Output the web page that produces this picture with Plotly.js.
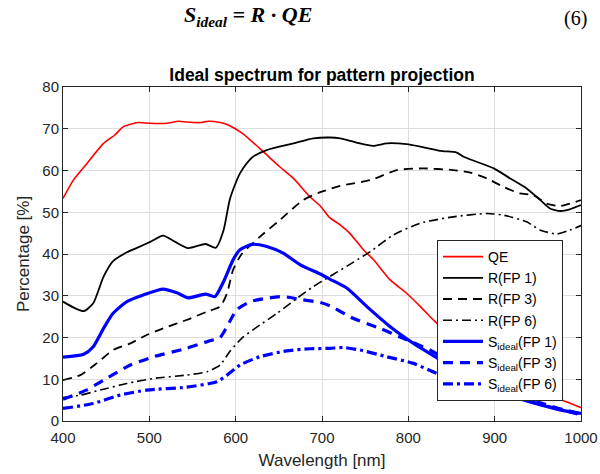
<!DOCTYPE html>
<html>
<head>
<meta charset="utf-8">
<script src="https://cdn.plot.ly/plotly-3.0.1.min.js"></script>
<style>html,body{margin:0;padding:0;background:#fff;}#chart{width:600px;height:474px;}</style>
</head>
<body>
<div id="chart"></div>
<script>
// Data (wavelength in nm, values in %)
var qeWl = [400,412,425,447,460,470,487,500,520,534,543,560,568,582,590,597,607,617,632,651,667,686,698,709,721,732,748,759,779,798,814,831,850,880,900,930,960,983,1000];
var qeVal = [53.3,57.7,61,66.5,68.5,70.5,71.5,71.3,71.3,71.8,71.6,71.5,71.8,71.5,71,70.3,69,67.3,64.5,60.9,58.1,53.7,51.5,48.7,47,45,41,38.8,33.8,30.6,27.4,23.8,20.5,15.5,12.5,9,6.3,4.6,3.2];

var r1Wl = [400,412,424,435,447,458,474,485,501,516,530,545,565,577,586,593,600,605,612,620,636,667,690,709,721,740,759,775,798,814,837,856,864,879,899,918,937,953,964,976,987,1000];
var r1Val = [28.6,27.2,26.3,28.2,34.6,38.3,40.4,41.4,42.9,44.4,42.9,41.4,42.4,41.5,45.7,52.9,57,59.3,61.5,63.3,64.9,66.5,67.7,67.9,67.7,66.7,65.9,66.5,66.3,65.7,64.7,64.3,63.3,62.1,60.5,58.1,55.7,52.9,50.9,50.3,50.7,51.7];

var r3Wl = [400,420,439,458,478,497,516,543,567,582,590,597,607,628,651,678,698,721,756,787,817,852,872,891,910,929,945,960,976,1000];
var r3Val = [9.8,11,13.8,17,18.6,20.6,22.2,24.2,26.2,27.4,30.6,36.2,40,44.1,48.1,52.9,54.8,56.3,57.7,60.1,60.5,60.1,59.5,58.1,56.1,54.5,54.1,52.1,51.5,52.9];

var r6Wl = [400,420,443,474,505,543,567,582,593,607,628,648,671,690,709,736,756,783,814,852,891,910,937,953,972,987,1000];
var r6Val = [5.6,6.2,7.4,9,10.2,11,11.8,13.4,16.6,19.8,23,25.8,29.4,32.2,34.6,38,40.6,44.6,47.4,48.9,49.7,49.3,47.7,45.7,44.8,45.7,46.8];

var s1Wl = [400,424,435,447,458,474,493,516,532,545,565,576,586,597,605,619,636,655,675,698,709,729,752,779,806,831,850,880,900,930,960,980,1000];
var s1Val = [15.3,16,17.8,22.2,25.8,28.6,30.2,31.6,30.7,29.5,30.4,29.8,33.4,38.6,41,42.3,41.8,40.2,37.4,35.2,34,31.8,27.4,22.6,18.6,15.4,12.8,9.5,7.6,5.3,3.5,2.5,1.8];

var s3Wl = [400,427,447,478,505,543,570,582,590,601,617,636,655,675,698,709,736,767,794,825,850,880,900,930,960,980,1000];
var s3Val = [5.2,7.4,9.8,13.4,15.4,17.4,19.2,20,22.6,26.6,28.6,29.4,29.8,29.1,28.4,27.6,24.6,22.2,19.8,17,14,10.5,8.5,6,3.9,2.7,1.8];

var s6Wl = [400,435,466,497,543,578,590,605,628,659,686,709,725,744,775,806,833,850,880,900,930,960,980,1000];
var s6Val = [3,4.2,6.2,7.4,8.1,9.4,11,13.4,15.4,16.8,17.3,17.4,17.6,17,15.4,13.8,11.4,10.3,8.5,7.2,5.3,3.6,2.5,1.5];

var xTicks = [400,500,600,700,800,900,1000];
var yTicks = [0,10,20,30,40,50,60,70,80];

var names = ['QE','R(FP 1)','R(FP 3)','R(FP 6)','S<sub>ideal</sub>(FP 1)','S<sub>ideal</sub>(FP 3)','S<sub>ideal</sub>(FP 6)'];

function tr(x, y, name, color, width, dash) {
  return {x: x, y: y, name: name, type: 'scatter', mode: 'lines',
    line: {color: color, width: width, dash: dash, shape: 'spline', smoothing: 0.6}};
}

var data = [
  tr(qeWl, qeVal, names[0], '#ff0000', 1.6, 'solid'),
  tr(r1Wl, r1Val, names[1], '#000000', 1.8, 'solid'),
  tr(r3Wl, r3Val, names[2], '#000000', 1.8, '9px,6px'),
  tr(r6Wl, r6Val, names[3], '#000000', 1.6, '9px,4px,2px,4px'),
  tr(s1Wl, s1Val, names[4], '#0000ff', 3.2, 'solid'),
  tr(s3Wl, s3Val, names[5], '#0000ff', 3.2, '10px,7px'),
  tr(s6Wl, s6Val, names[6], '#0000ff', 3.2, '10px,4px,3px,4px')
];

var sans = 'Liberation Sans, Arial, sans-serif';

var axisCommon = {
  showline: true, mirror: 'ticks', linecolor: '#262626', linewidth: 1,
  ticks: 'inside', ticklen: 5, tickcolor: '#262626',
  showgrid: true, gridcolor: '#dedede', gridwidth: 1, zeroline: false,
  tickfont: {family: sans, size: 15, color: '#262626'}
};

var layout = {
  width: 600, height: 474,
  margin: {l: 63, r: 19, t: 87, b: 53},
  paper_bgcolor: '#ffffff', plot_bgcolor: '#ffffff',
  font: {family: sans, color: '#262626'},
  title: {text: '<b>Ideal spectrum for pattern projection</b>',
    font: {family: sans, size: 17.5, color: '#000000'},
    xref: 'paper', x: 0.5, xanchor: 'center', yref: 'container', y: 1 - 75/474, yanchor: 'middle'},
  xaxis: Object.assign({}, axisCommon, {
    range: [400, 1000], tickvals: xTicks, ticktext: xTicks.map(String),
    ticklabelstandoff: 3,
    title: {text: 'Wavelength [nm]', font: {family: sans, size: 17, color: '#262626'}, standoff: 9}
  }),
  yaxis: Object.assign({}, axisCommon, {
    range: [0, 80], tickvals: yTicks, ticktext: yTicks.map(String),
    title: {text: 'Percentage [%]', font: {family: sans, size: 17, color: '#262626'}, standoff: 8}
  }),
  showlegend: true,
  legend: {x: (437-63)/518, y: (421-240)/334, xanchor: 'left', yanchor: 'top',
    bgcolor: '#ffffff', bordercolor: '#262626', borderwidth: 1,
    font: {family: sans, size: 14, color: '#000000'},
    tracegroupgap: 0, itemwidth: 40},
  annotations: [
    {xref: 'paper', yref: 'paper', x: (248-63)/518, y: (421-16)/334, xanchor: 'center', yanchor: 'middle',
     showarrow: false, text: '<b><i>S<sub>ideal</sub> = R · QE</i></b>',
     font: {family: 'Liberation Serif, DejaVu Serif, serif', size: 22, color: '#000000'}},
    {xref: 'paper', yref: 'paper', x: (589-63)/518, y: (421-18)/334, xanchor: 'right', yanchor: 'middle',
     showarrow: false, text: '(6)',
     font: {family: 'Liberation Serif, serif', size: 20, color: '#000000'}}
  ]
};

Plotly.newPlot('chart', data, layout, {displayModeBar: false, staticPlot: true});
</script>
</body>
</html>
